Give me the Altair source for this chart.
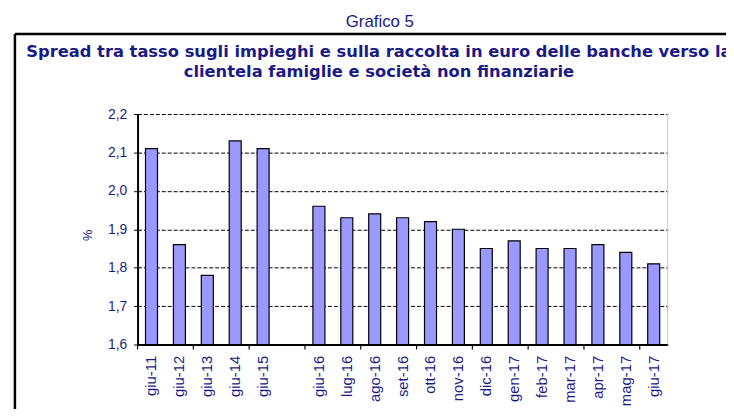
import altair as alt
import pandas as pd

# ---- data ----
categories = ["giu-11", "giu-12", "giu-13", "giu-14", "giu-15",
              "giu-16", "lug-16", "ago-16", "set-16", "ott-16", "nov-16",
              "dic-16", "gen-17", "feb-17", "mar-17", "apr-17", "mag-17", "giu-17"]
values = [2.11, 1.86, 1.78, 2.13, 2.11,
          1.96, 1.93, 1.94, 1.93, 1.92, 1.90,
          1.85, 1.87, 1.85, 1.85, 1.86, 1.84, 1.81]
GAP = " "  # empty slot between the yearly and monthly bars
x_domain = categories[:5] + [GAP] + categories[5:]
y_ticks = [1.6, 1.7, 1.8, 1.9, 2.0, 2.1, 2.2]
y_min, y_max = 1.6, 2.2

supertitle = "Grafico 5"
title_lines = ["Spread tra tasso sugli impieghi e sulla raccolta in euro delle banche verso la",
               "clientela famiglie e società non finanziarie"]
y_title = "%"

df = pd.DataFrame({"cat": categories, "val": values, "base": [y_min] * len(values)})
tick_df = pd.DataFrame({"cat": x_domain[::2]})

NAVY = "#1a1a86"
W, H = 536, 233

xscale = alt.Scale(domain=x_domain, paddingInner=0, paddingOuter=0)
yscale = alt.Scale(domain=[y_min, y_max], nice=False, zero=False)

bars = alt.Chart(df).mark_bar(
    width=alt.RelativeBandSize(0.43), color="#9999ff", stroke="black", strokeWidth=1.2
).encode(
    x=alt.X("cat:N", scale=xscale, sort=x_domain,
            axis=alt.Axis(title=None, labelAngle=270, labelFont="Liberation Sans",
                          labelFontSize=15, labelColor=NAVY, labelPadding=11,
                          ticks=False, domainColor="black", domainWidth=2, grid=False)),
    y=alt.Y("val:Q", scale=yscale,
            axis=alt.Axis(values=y_ticks, labelExpr="replace(format(datum.value, '.1f'), '.', ',')",
                          labelFont="Liberation Sans", labelFontSize=14, labelColor=NAVY,
                          labelPadding=7, tickSize=4, tickColor="black",
                          domainColor="black", domainWidth=2,
                          grid=True, gridColor="black", gridDash=[4, 2], gridWidth=1,
                          title=y_title, titleColor=NAVY, titleFont="Liberation Sans",
                          titleFontSize=13, titleFontWeight="normal",
                          titleX=-51, titleY=122, titleAngle=270,
                          titleAlign="center", titleBaseline="middle")),
    y2=alt.Y2("base:Q"),
)

ticks = alt.Chart(tick_df).mark_rule(color="black", strokeWidth=1.2).encode(
    x=alt.X("cat:N", scale=xscale, bandPosition=0),
    y=alt.value(H), y2=alt.value(H + 5),
)

one = alt.Data(values=[{}])
right_border = alt.Chart(one).mark_rule(color="#c8c8c8", strokeWidth=1).encode(
    x=alt.value(W), y=alt.value(0), y2=alt.value(H))

box_top = alt.Chart(one).mark_rule(color="black", strokeWidth=2.5).encode(
    x=alt.value(-124), x2=alt.value(700), y=alt.value(-81))
box_left = alt.Chart(one).mark_rule(color="black", strokeWidth=2.5).encode(
    x=alt.value(-124), y=alt.value(-81), y2=alt.value(400))

sup = alt.Chart(one).mark_text(text=supertitle, font="Liberation Sans", fontSize=17,
                               color=NAVY, align="center", baseline="middle").encode(
    x=alt.value(245), y=alt.value(-93))
t1 = alt.Chart(one).mark_text(text=title_lines[0], font="DejaVu Sans", fontWeight="bold",
                              fontSize=16.5, color=NAVY, align="center", baseline="middle").encode(
    x=alt.value(244), y=alt.value(-63))
t2 = alt.Chart(one).mark_text(text=title_lines[1], font="DejaVu Sans", fontWeight="bold",
                              fontSize=16.5, color=NAVY, align="center", baseline="middle").encode(
    x=alt.value(244), y=alt.value(-42))

chart = alt.layer(bars, ticks, right_border, box_top, box_left, sup, t1, t2).properties(
    width=W, height=H,
    autosize=alt.AutoSizeParams(type="none"),
    padding={"left": 131, "top": 105, "right": 59, "bottom": 63},
    background="white",
).configure_view(stroke=None)

chart.save("out.html", embed_options={"renderer": "svg", "actions": False})
